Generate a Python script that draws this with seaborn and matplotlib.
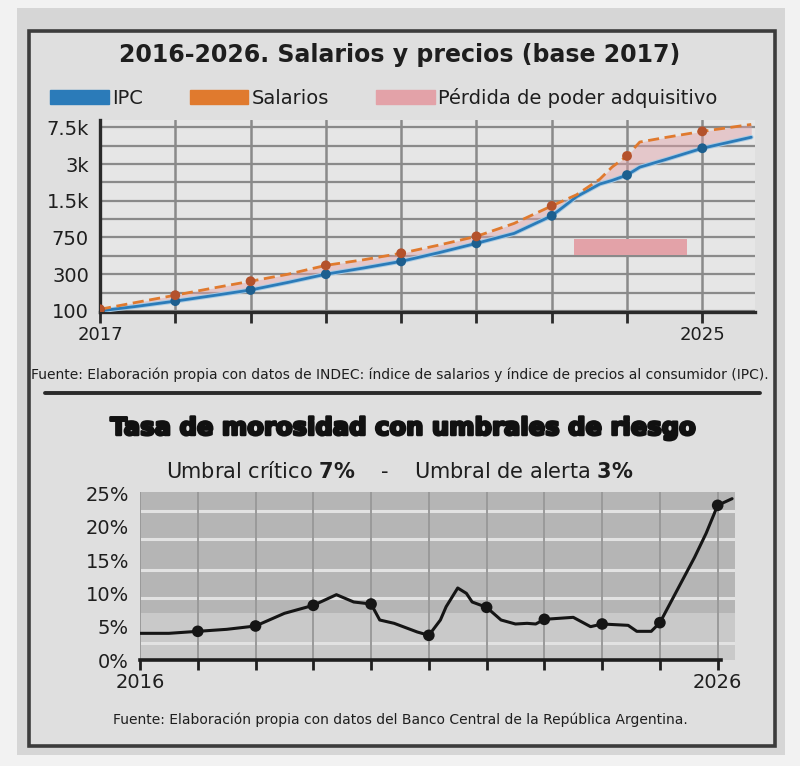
import numpy as np
import pandas as pd
import matplotlib
matplotlib.use("Agg")
import matplotlib.pyplot as plt
import seaborn as sns
from matplotlib.patches import Patch, Rectangle
from matplotlib.lines import Line2D
import matplotlib.patheffects as pe
from matplotlib.ticker import FixedLocator, NullFormatter

#   --  datos panel superior (indice base 2017 = 100)
anios = [2017, 2017.5, 2018, 2018.5, 2019, 2019.5, 2020, 2020.5, 2021, 2021.5,
         2022, 2022.5, 2023, 2023.33, 2023.64, 2023.8, 2024, 2024.17, 2024.53,
         2025, 2025.65]
ipc = [100, 115, 134, 158, 187, 235, 300, 350, 413, 513,
       648, 810, 1129, 1620, 2060, 2200, 2437, 2830, 3390,
       4450, 5860]
salarios = [105, 130, 160, 198, 243, 300, 374, 430, 506, 620,
            766, 978, 1361, 1680, 2260, 2830, 3670, 5200, 5860,
            6785, 7925]
ticks_y = [100, 300, 750, 1500, 3000, 7500]
etiquetas_y = ["100", "300", "750", "1.5k", "3k", "7.5k"]
anios_marca = [2017, 2018, 2019, 2020, 2021, 2022, 2023, 2024, 2025]
mancha_x = [2023.3, 2024.8]
mancha_y = [479, 716]

#   --  datos panel inferior (morosidad %)
anios_m = [2016.0, 2016.5, 2017.0, 2017.5, 2018.0, 2018.5, 2019.0, 2019.4,
           2019.7, 2020.0, 2020.15, 2020.4, 2020.8, 2021.0, 2021.2, 2021.3,
           2021.5, 2021.65, 2021.75, 2022.0, 2022.25, 2022.5, 2022.7, 2022.85,
           2023.0, 2023.5, 2023.8, 2024.0, 2024.45, 2024.6, 2024.85, 2025.0,
           2025.3, 2025.6, 2025.8, 2026.0, 2026.25]
morosidad = [4.0, 4.0, 4.3, 4.6, 5.1, 7.0, 8.2, 9.8,
             8.7, 8.4, 6.0, 5.5, 4.2, 3.7, 6.0, 8.0,
             10.8, 10.0, 8.7, 7.9, 6.0, 5.4, 5.5, 5.4,
             6.1, 6.4, 5.0, 5.4, 5.2, 4.3, 4.3, 5.6,
             10.5, 15.4, 19.0, 23.2, 24.2]
anios_marca_m = [2017, 2018, 2019, 2020, 2021, 2022, 2023, 2024, 2025, 2026]
ticks_m = [0, 5, 10, 15, 20, 25]
lineas_blancas = [2.5, 9.3, 13.5, 18.1, 22.3]
umbral_critico = 7
umbral_alerta = 3

df = pd.DataFrame({"anio": anios, "IPC": ipc, "Salarios": salarios})
dm = pd.DataFrame({"anio": anios_m, "mora": morosidad})

sns.set_style("whitegrid")
plt.rcParams["font.family"] = ["DejaVu Sans"]
plt.rcParams["mathtext.fontset"] = "dejavusans"

AZUL = "#2b7bb9"
AZUL_OSC = "#1d5f8f"
NARANJA = "#e07a2e"
NARANJA_OSC = "#b4522c"
ROSA = "#e3a2a8"
TXT = "#1e1e1e"

fig = plt.figure(figsize=(8, 7.66), dpi=100)
fig.patch.set_facecolor("#f2f2f2")

H = 766.0
def fy(p):
    return 1 - p / H

# fondo y marco
fig.add_artist(Rectangle((17 / 800, fy(755)), (785 - 17) / 800, (755 - 8) / H,
                         transform=fig.transFigure, facecolor="#d6d6d6",
                         edgecolor="none", zorder=-3))
fig.add_artist(Rectangle((29 / 800, fy(746)), (775 - 29) / 800, (746 - 31) / H,
                         transform=fig.transFigure, facecolor="#dfdfdf",
                         edgecolor="#3c3c3c", lw=2.6, zorder=-2))
fig.add_artist(Line2D([45 / 800, 760 / 800], [fy(393), fy(393)],
                      transform=fig.transFigure, color="#2a2a2a", lw=2.8))

#   --  escala y del panel superior: etiquetas equiespaciadas
nudos_log = np.log10([100 / 3, 100, 300, 750, 1500, 3000, 7500, 15000])
nudos_pos = np.arange(-1, 7, dtype=float)

def fwd(v):
    v = np.asarray(v, dtype=float)
    return np.interp(np.log10(np.clip(v, 1e-6, None)), nudos_log, nudos_pos)

def inv(t):
    return 10 ** np.interp(np.asarray(t, dtype=float), nudos_pos, nudos_log)

ax1 = fig.add_axes([100 / 800, fy(312), 655 / 800, (312 - 120) / H])
ax1.set_facecolor("#e6e6e6")
ax1.set_yscale("function", functions=(fwd, inv))
ax1.set_xlim(2017, 2025.7)
ax1.set_ylim(inv(-0.03), inv(5.2))

ax1.fill_between(df["anio"], df["IPC"], df["Salarios"], color=ROSA,
                 alpha=0.45, lw=0, zorder=2)
ax1.fill_between(mancha_x, [mancha_y[0]] * 2, [mancha_y[1]] * 2, color=ROSA,
                 lw=0, zorder=2)
sns.lineplot(data=df, x="anio", y="IPC", ax=ax1, color=AZUL, lw=2.0, zorder=3,
             path_effects=[pe.Stroke(linewidth=3.4, foreground="#a9cbe3"), pe.Normal()])
sns.lineplot(data=df, x="anio", y="Salarios", ax=ax1, color=NARANJA, lw=2.0,
             zorder=4, linestyle=(0, (4, 2)))
dmarca = df[df["anio"].isin(anios_marca)]
sns.scatterplot(data=dmarca, x="anio", y="IPC", ax=ax1, color=AZUL_OSC, s=50,
                marker="o", edgecolor="none", zorder=5)
sns.scatterplot(data=dmarca, x="anio", y="Salarios", ax=ax1, color=NARANJA_OSC,
                s=50, marker="o", edgecolor="none", zorder=5)

ax1.set_yticks(ticks_y)
ax1.set_yticklabels(etiquetas_y)
ax1.yaxis.set_minor_locator(FixedLocator(inv(np.arange(0.5, 5.3, 0.5))))
ax1.yaxis.set_minor_formatter(NullFormatter())
ax1.set_xticks(anios_marca)
ax1.set_xticklabels(["2017"] + [""] * 7 + ["2025"])
ax1.grid(True, which="both", axis="y", color="#8a8a8a", lw=1.6)
ax1.grid(True, which="major", axis="x", color="#8a8a8a", lw=1.8)
ax1.tick_params(axis="y", which="both", length=0, labelsize=14,
                labelcolor=TXT, pad=8)
ax1.tick_params(axis="x", length=8, width=2, color="#2a2a2a", labelsize=13,
                labelcolor=TXT, pad=2, direction="out", bottom=True)
for s in ["top", "right"]:
    ax1.spines[s].set_visible(False)
for s in ["left", "bottom"]:
    ax1.spines[s].set_color("#2a2a2a")
    ax1.spines[s].set_linewidth(2.4)
ax1.set_xlabel("")
ax1.set_ylabel("")

fig.text(0.5, fy(55), "2016-2026. Salarios y precios (base 2017)",
         ha="center", va="center", fontsize=17, fontweight="heavy", color=TXT)
manejadores = [Patch(color=AZUL, label="IPC"),
               Patch(color=NARANJA, label="Salarios"),
               Patch(color=ROSA, label="Pérdida de poder adquisitivo")]
fig.legend(handles=manejadores, loc="center", bbox_to_anchor=(0.48, fy(98)),
           ncol=3, frameon=False, fontsize=14, handlelength=3.0,
           handleheight=0.7, handletextpad=0.2, columnspacing=2.4,
           labelcolor=TXT)
fig.text(0.5, fy(375),
         "Fuente: Elaboración propia con datos de INDEC: índice de salarios y índice de precios al consumidor (IPC).",
         ha="center", va="center", fontsize=10, color=TXT)

#   --  panel inferior
ax2 = fig.add_axes([140 / 800, fy(660), 595 / 800, (660 - 492) / H])
ax2.set_xlim(2016, 2026.3)
ax2.set_ylim(0, 25.2)
ax2.set_facecolor("#c9c9c9")
ax2.axhspan(umbral_critico, 25.2, color="#b5b5b5", lw=0, zorder=0)
for v in lineas_blancas:
    ax2.axhline(v, color="#e2e2e2", lw=2.2, zorder=1)
for a in range(2016, 2027):
    ax2.axvline(a, color="#9a9a9a", lw=1.4, zorder=1)
sns.lineplot(data=dm, x="anio", y="mora", ax=ax2, color="#151515", lw=2.2,
             zorder=3)
sns.scatterplot(data=dm[dm["anio"].isin(anios_marca_m)], x="anio", y="mora",
                ax=ax2, color="#151515", s=70, edgecolor="none", zorder=4)
ax2.grid(False)
ax2.set_yticks(ticks_m)
ax2.set_yticklabels([f"{t}%" for t in ticks_m])
ax2.set_xticks(range(2016, 2027))
ax2.set_xticklabels(["2016"] + [""] * 9 + ["2026"])
ax2.tick_params(axis="y", length=0, labelsize=14, labelcolor=TXT, pad=8)
ax2.tick_params(axis="x", length=7, width=2, color="#1e1e1e", labelsize=14,
                labelcolor=TXT, pad=2, bottom=True)
for s in ["top", "right", "left"]:
    ax2.spines[s].set_visible(False)
ax2.spines["bottom"].set_color("#1e1e1e")
ax2.spines["bottom"].set_linewidth(2.6)
ax2.spines["bottom"].set_bounds(2016, 2026.05)
ax2.set_xlabel("")
ax2.set_ylabel("")

fig.text(0.502, fy(428), "Tasa de morosidad con umbrales de riesgo",
         ha="center", va="center", fontsize=17.5, fontweight="heavy",
         color="#111111",
         path_effects=[pe.withStroke(linewidth=1.8, foreground="#111111")])
fig.text(0.5, fy(472),
         r"Umbral crítico $\bf{7\%}$    -    Umbral de alerta $\bf{3\%}$",
         ha="center", va="center", fontsize=15, color=TXT)
fig.text(0.5, fy(720),
         "Fuente: Elaboración propia con datos del Banco Central de la República Argentina.",
         ha="center", va="center", fontsize=10, color=TXT)

fig.savefig("out.png", dpi=100, facecolor=fig.get_facecolor())
